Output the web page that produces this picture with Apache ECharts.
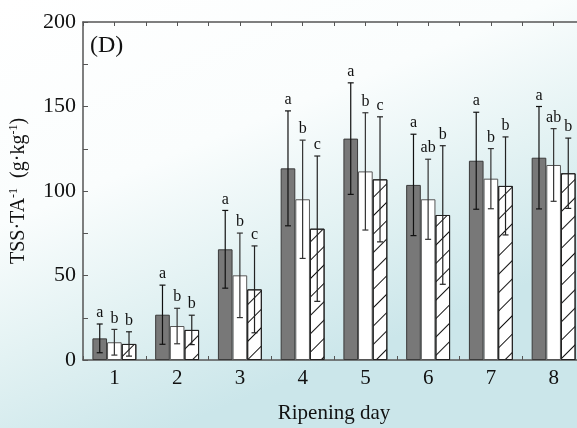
<!DOCTYPE html>
<html>
<head>
<meta charset="utf-8">
<script src="https://cdn.jsdelivr.net/npm/echarts@6/dist/echarts.min.js"></script>
<style>
html,body{margin:0;padding:0;}
#c{width:577px;height:428px;}
</style>
</head>
<body>
<div id="c"></div>
<script>
const days = ['1','2','3','4','5','6','7','8'];
const darkMean  = [12.8, 26.8, 65.5, 113.4, 131.0, 103.6, 117.9, 119.7];
const darkErr   = [8.5, 17.5, 23.0, 34.0, 33.0, 30.0, 28.7, 30.3];
const whiteMean = [10.5, 20.1, 50.1, 95.1, 111.6, 95.1, 107.3, 115.4];
const whiteErr  = [7.6, 10.5, 25.0, 35.0, 34.7, 23.7, 17.8, 21.5];
const hatchMean = [9.5, 17.8, 41.8, 77.7, 106.9, 85.8, 103.0, 110.5];
const hatchErr  = [7.2, 8.7, 25.7, 43.0, 37.0, 41.0, 29.0, 20.8];
const darkLetters  = ['a','a','a','a','a','a','a','a'];
const whiteLetters = ['b','b','b','b','b','ab','b','ab'];
const hatchLetters = ['b','b','c','c','c','b','b','b'];
const yTicks = [0, 50, 100, 150, 200];

const FONT = '"Liberation Serif", "Times New Roman", serif';
const chart = echarts.init(document.getElementById('c'), null, {renderer: 'canvas'});

function errSeries(means, errs, letters, offsetIdx, color) {
  const data = means.map((m, i) => [i, m, errs[i]]);
  return {
    type: 'custom',
    xAxisIndex: 0,
    yAxisIndex: 0,
    z: 5,
    silent: true,
    data: data,
    renderItem: function (params, api) {
      const i = api.value(0);
      const m = api.value(1);
      const e = api.value(2);
      const lab = letters[i];
      const band = api.size([1, 0])[0];
      const bw = band * 0.7 / 3;
      const c = api.coord([i, m]);
      const x = c[0] + (offsetIdx - 1) * bw;
      const yTop = api.coord([i, m + e])[1];
      const yBot = api.coord([i, Math.max(m - e, 0)])[1];
      const cap = 3;
      const st = {stroke: color, lineWidth: 1.2};
      return {
        type: 'group',
        children: [
          {type: 'line', shape: {x1: x, y1: yTop, x2: x, y2: yBot}, style: st},
          {type: 'line', shape: {x1: x - cap, y1: yTop, x2: x + cap, y2: yTop}, style: st},
          {type: 'line', shape: {x1: x - cap, y1: yBot, x2: x + cap, y2: yBot}, style: st},
          {type: 'text', style: {text: lab, x: x, y: yTop - 3, align: 'center', verticalAlign: 'bottom',
            font: '16px ' + FONT, fill: '#111'}}
        ]
      };
    }
  };
}

const option = {
  animation: false,
  backgroundColor: {
    type: 'linear', x: 0, y: 0, x2: 0.3, y2: 1,
    colorStops: [
      {offset: 0, color: '#ffffff'},
      {offset: 0.45, color: '#fafdfd'},
      {offset: 0.72, color: '#e3f2f3'},
      {offset: 1, color: '#cbe6ea'}
    ]
  },
  textStyle: {fontFamily: FONT},
  grid: {left: 83, top: 22, width: 502, bottom: 68, containLabel: false, outerBoundsMode: 'none'},
  xAxis: [
    {
      type: 'category',
      data: days,
      position: 'bottom',
      name: 'Ripening day',
      nameLocation: 'middle',
      nameGap: 43,
      nameTextStyle: {fontFamily: FONT, fontSize: 21, color: '#111'},
      axisLine: {show: true, lineStyle: {color: '#555', width: 1.5}},
      axisTick: {show: true, inside: true, length: 4, lineStyle: {color: '#555'}},
      axisLabel: {fontFamily: FONT, fontSize: 21, color: '#111', margin: 8},
      splitLine: {show: false}
    },
    {
      type: 'value',
      position: 'top',
      min: 0, max: 8, interval: 0.5,
      axisLine: {show: true, onZero: false, lineStyle: {color: '#555', width: 1.5}},
      axisTick: {show: true, inside: true, length: 4, lineStyle: {color: '#555'}},
      axisLabel: {show: false},
      splitLine: {show: false}
    }
  ],
  yAxis: {
    type: 'value',
    min: 0, max: 200, interval: 25,
    name: 'TSS·TA{sup|-1}  (g·kg{sup|-1})',
    nameLocation: 'middle',
    nameRotate: 90,
    nameGap: 53,
    nameTextStyle: {
      fontFamily: FONT, fontSize: 20, color: '#111',
      rich: {sup: {fontFamily: FONT, fontSize: 12, color: '#111', verticalAlign: 'top', padding: [0, 0, 10, 0]}}
    },
    axisLine: {show: true, lineStyle: {color: '#555', width: 1.5}},
    axisTick: {show: true, inside: true, length: 5, lineStyle: {color: '#555'}},
    axisLabel: {
      fontFamily: FONT, fontSize: 22, color: '#111', margin: 7,
      formatter: function (v) { return yTicks.indexOf(v) >= 0 ? String(v) : ''; }
    },
    splitLine: {show: false}
  },
  graphic: [
    {type: 'text', left: 90, top: 34, style: {text: '(D)', font: '24px ' + FONT, fill: '#111'}}
  ],
  series: [
    {
      type: 'bar', name: 'A', data: darkMean,
      barCategoryGap: '30%', barGap: '0%',
      itemStyle: {color: '#787878', borderColor: '#3a3a3a', borderWidth: 1}
    },
    {
      type: 'bar', name: 'B', data: whiteMean,
      barCategoryGap: '30%', barGap: '0%',
      itemStyle: {color: '#ffffff', borderColor: '#555', borderWidth: 1}
    },
    {
      type: 'bar', name: 'C', data: hatchMean,
      barCategoryGap: '30%', barGap: '0%',
      itemStyle: {
        color: '#ffffff', borderColor: '#222', borderWidth: 1,
        decal: {
          symbol: 'rect', symbolSize: 1, color: '#111',
          dashArrayX: [1, 0], dashArrayY: [1, 12], rotation: -Math.PI / 4
        }
      }
    },
    errSeries(darkMean, darkErr, darkLetters, 0, '#111'),
    errSeries(whiteMean, whiteErr, whiteLetters, 1, '#333'),
    errSeries(hatchMean, hatchErr, hatchLetters, 2, '#222')
  ]
};
chart.setOption(option);
</script>
</body>
</html>
